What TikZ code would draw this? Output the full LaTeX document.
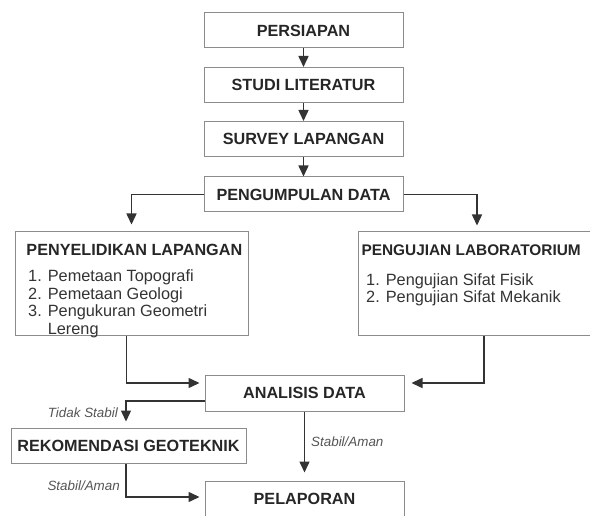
\documentclass[tikz,border=0pt]{standalone}
\usepackage{fontspec}
\setmainfont{Liberation Sans}
\usetikzlibrary{arrows.meta,positioning}
\definecolor{boxline}{HTML}{8C8C8C}
\definecolor{arrowline}{HTML}{333333}
\definecolor{labeltext}{HTML}{555555}
\tikzstyle{stage} = [draw=boxline, line width=1pt, inner sep=0pt, minimum height=35pt, font=\fontsize{16.2}{18}\selectfont\bfseries, text=black!85]
\tikzstyle{bigbox} = [draw=boxline, line width=1pt, inner sep=0pt, minimum height=104pt]
\tikzstyle{flow} = [draw=arrowline, line width=1.5pt, -{Triangle[length=11pt,width=10pt]}]
\tikzstyle{cond} = [font=\fontsize{13.4}{15}\selectfont\itshape, text=labeltext, inner sep=0pt]
\tikzstyle{listtext} = [font=\fontsize{16.3}{17.7}\selectfont, text=black!80, align=left, inner sep=0pt]

\begin{document}
\begin{tikzpicture}[x=1pt,y=-1pt]

	\useasboundingbox (0,0) rectangle (590,516);

	% main line
	\node[stage, minimum width=199pt] (persiapan) at (303.5,30.5) {PERSIAPAN};
	\node[stage, minimum width=199pt] (studi) at (303.5,85) {STUDI LITERATUR};
	\node[stage, minimum width=199pt] (survey) at (303.5,139) {SURVEY LAPANGAN};
	\node[stage, minimum width=199pt] (kumpul) at (303.5,194.5) {PENGUMPULAN DATA};

	% the two branches
	\node[bigbox, minimum width=233pt] (lapangan) at (131.5,284) {};
	\node[stage, draw=none, anchor=west] (lapangantitle) at (26,250) {PENYELIDIKAN LAPANGAN};
	\node[listtext, anchor=north west] (lapanganlist) at (28,269.5)
		{1. Pemetaan Topografi\\2. Pemetaan Geologi\\3. Pengukuran Geometri\\\phantom{3. }Lereng};

	\node[bigbox, minimum width=238pt] (lab) at (477,284) {};
	\node[stage, draw=none, anchor=west, font=\fontsize{15.4}{18}\selectfont\bfseries] (labtitle) at (361,250) {PENGUJIAN LABORATORIUM};
	\node[listtext, anchor=north west] (lablist) at (366,273)
		{1. Pengujian Sifat Fisik\\2. Pengujian Sifat Mekanik};

	\node[stage, minimum width=199pt, minimum height=36pt] (analisis) at (304.5,393) {ANALISIS DATA};
	\node[stage, minimum width=235pt] (rekom) at (128.5,445.5) {REKOMENDASI GEOTEKNIK};
	\node[stage, minimum width=199pt] (pelaporan) at (304.5,498.5) {PELAPORAN};

	\draw[flow] (persiapan) -- (studi);
	\draw[flow] (studi) -- (survey);
	\draw[flow] (survey) -- (kumpul);
	\draw[flow] (kumpul.west) -| ([yshift=7pt]lapangan.north);
	\draw[flow] (kumpul.east) -| ([yshift=6pt]lab.north);

	\draw[flow] ([xshift=-5pt]lapangan.south) |- ([xshift=-5pt,yshift=10pt]analisis.west);
	\draw[flow] ([xshift=7pt]lab.south) |- ([xshift=7pt,yshift=10pt]analisis.east);

	\draw[flow] ([yshift=-8pt]analisis.west) -| ([xshift=-2.5pt,yshift=6pt]rekom.north);
	\draw[flow] (analisis.south) -- ([yshift=8pt]pelaporan.north);
	\draw[flow] ([xshift=-2.5pt]rekom.south) |- ([xshift=-5pt,yshift=1.5pt]pelaporan.west);

	\node[cond, anchor=east] (tidak) at (118,413) {Tidak Stabil};
	\node[cond, anchor=east] (aman1) at (120,486) {Stabil/Aman};
	\node[cond, anchor=west] (aman2) at (311,442) {Stabil/Aman};

\end{tikzpicture}
\end{document}
